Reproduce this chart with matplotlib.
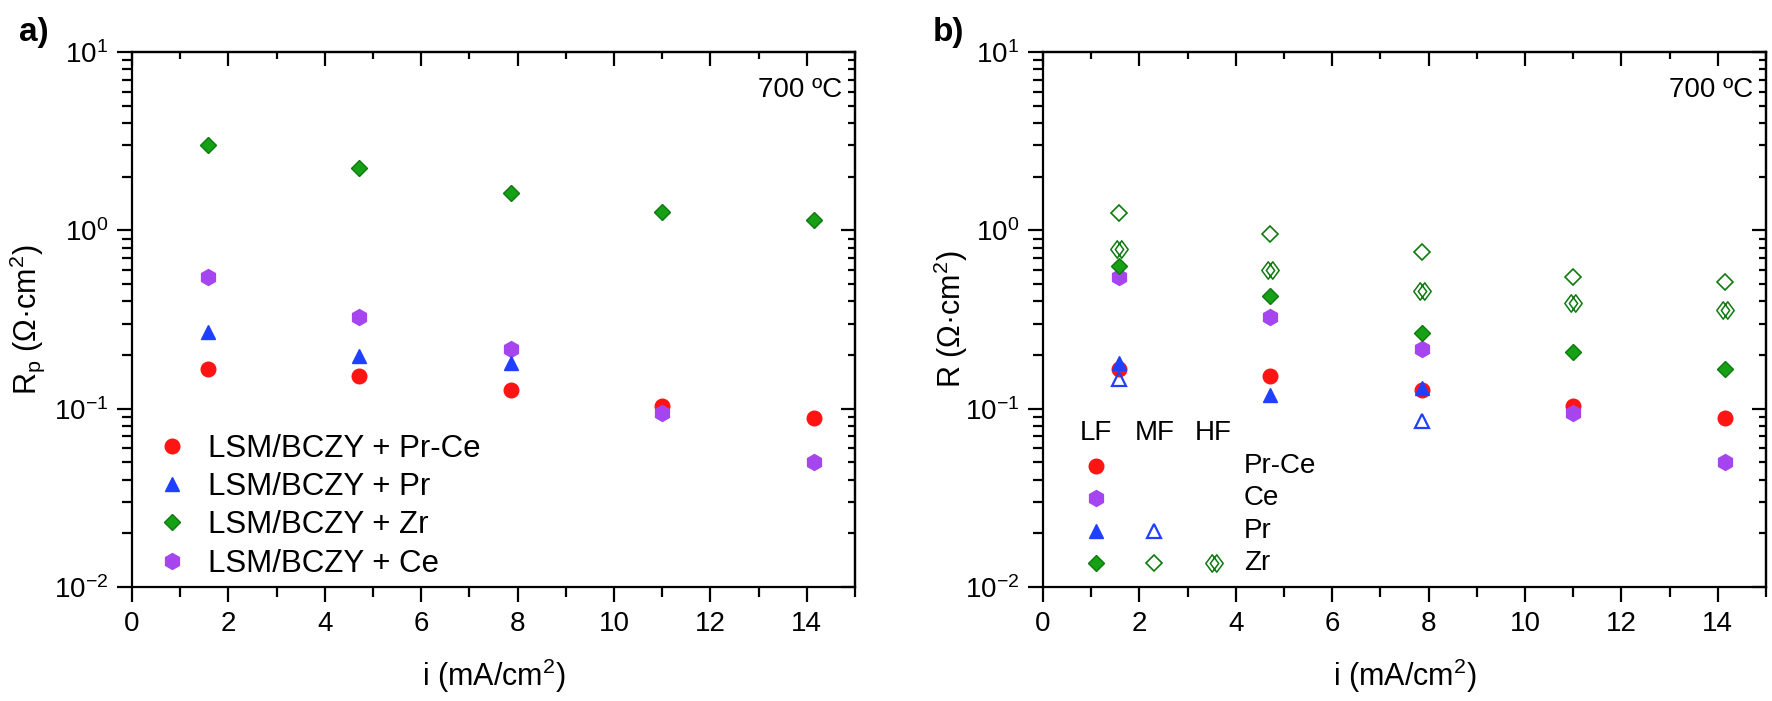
import matplotlib
matplotlib.use("Agg")
import matplotlib.pyplot as plt
from matplotlib.path import Path
from matplotlib.ticker import MultipleLocator, LogLocator, NullFormatter

plt.rcParams['font.family'] = ['Liberation Sans', 'DejaVu Sans']
plt.rcParams['mathtext.fontset'] = 'custom'
plt.rcParams['mathtext.rm'] = 'Liberation Sans'
plt.rcParams['mathtext.it'] = 'Liberation Sans:italic'
plt.rcParams['mathtext.bf'] = 'Liberation Sans:bold'

# current density (mA/cm2)
i_vals = [1.57, 4.71, 7.86, 11.0, 14.14]
i_pr = [1.57, 4.71, 7.86]

# panel a) total polarisation resistance Rp (ohm cm2)
rp_prce = [0.168, 0.153, 0.128, 0.103, 0.089]
rp_pr = [0.27, 0.197, 0.18]
rp_zr = [3.0, 2.23, 1.63, 1.26, 1.14]
rp_ce = [0.545, 0.325, 0.215, 0.094, 0.050]

# panel b) resistance of each frequency contribution
lf_prce = [0.168, 0.153, 0.128, 0.103, 0.089]
lf_ce = [0.545, 0.325, 0.215, 0.094, 0.050]
lf_pr = [0.18, 0.12, 0.13]
mf_pr = [0.146, 0.085]
i_mf_pr = [1.57, 7.86]
lf_zr = [0.63, 0.43, 0.264, 0.207, 0.166]
mf_zr = [1.25, 0.95, 0.76, 0.55, 0.51]
hf_zr = [0.79, 0.60, 0.455, 0.39, 0.356]

RED = '#ff1414'
BLUE = '#2040ff'
GREEN = '#16a016'
GREEN_E = '#0d7a0d'
PURPLE = '#a545f0'

# two overlapping open diamonds, used for the HF points
_v = []
_c = []
for cx in (-0.13, 0.13):
    _v += [(cx - 0.37, 0), (cx, 0.5), (cx + 0.37, 0), (cx, -0.5), (cx - 0.37, 0)]
    _c += [Path.MOVETO, Path.LINETO, Path.LINETO, Path.LINETO, Path.CLOSEPOLY]
HF_MARK = Path(_v, _c)

fig = plt.figure(figsize=(17.72, 7.01), dpi=100)
ax1 = fig.add_axes([0.0745, 0.1626, 0.408, 0.7632])
ax2 = fig.add_axes([0.5886, 0.1626, 0.408, 0.7632])


def style_axes(ax):
    ax.set_yscale('log')
    ax.set_xlim(0, 15)
    ax.set_ylim(1e-2, 1e1)
    ax.xaxis.set_major_locator(MultipleLocator(2))
    ax.xaxis.set_minor_locator(MultipleLocator(1))
    ax.yaxis.set_major_locator(LogLocator(base=10))
    ax.yaxis.set_minor_locator(LogLocator(base=10, subs=range(2, 10)))
    ax.yaxis.set_minor_formatter(NullFormatter())
    for s in ax.spines.values():
        s.set_linewidth(1.6)
    ax.tick_params(which='both', direction='out', width=1.6, labelsize=20,
                   top=False, right=False)
    ax.tick_params(which='major', length=11, pad=6)
    ax.tick_params(which='minor', length=7)
    # mirrored ticks pointing inwards on the top and right
    sec_x = ax.secondary_xaxis('top')
    sec_x.xaxis.set_major_locator(MultipleLocator(2))
    sec_x.xaxis.set_minor_locator(MultipleLocator(1))
    sec_x.tick_params(which='both', direction='in', width=1.6, labeltop=False)
    sec_x.tick_params(which='major', length=10)
    sec_x.tick_params(which='minor', length=5)
    sec_x.spines['top'].set_linewidth(1.6)
    sec_y = ax.secondary_yaxis('right')
    sec_y.yaxis.set_major_locator(LogLocator(base=10))
    sec_y.yaxis.set_minor_locator(LogLocator(base=10, subs=range(2, 10)))
    sec_y.tick_params(which='both', direction='in', width=1.6, labelright=False)
    sec_y.tick_params(which='major', length=10)
    sec_y.tick_params(which='minor', length=5)
    sec_y.spines['right'].set_linewidth(1.6)
    ax.set_xlabel('i (mA/cm$^2$)', fontsize=22)
    ax.xaxis.set_label_coords(0.5, -0.131)
    ax.text(0.982, 0.929, '700 ºC', transform=ax.transAxes, fontsize=20,
            ha='right', va='center')


style_axes(ax1)
style_axes(ax2)

# ---- panel a
h_prce, = ax1.plot(i_vals, rp_prce, 'o', ms=10.5, color=RED, mec=RED,
                   ls='none', zorder=3)
h_ce, = ax1.plot(i_vals, rp_ce, 'h', ms=11.5, color=PURPLE, mec=PURPLE,
                 ls='none', zorder=4)
h_pr, = ax1.plot(i_pr, rp_pr, '^', ms=10.5, color=BLUE, mec=BLUE,
                 ls='none', zorder=5)
h_zr, = ax1.plot(i_vals, rp_zr, 'D', ms=8.4, color=GREEN, mec=GREEN_E,
                 mew=1.0, ls='none', zorder=6)
ax1.legend([h_prce, h_pr, h_zr, h_ce],
           ['LSM/BCZY + Pr-Ce', 'LSM/BCZY + Pr', 'LSM/BCZY + Zr', 'LSM/BCZY + Ce'],
           loc='lower left', bbox_to_anchor=(0.03, 0.01), frameon=False,
           fontsize=22.5, handlelength=1.0, handletextpad=0.65,
           labelspacing=0.26, borderaxespad=0.0, borderpad=0.1)
ax1.set_ylabel('R$_\\mathrm{p}$ (Ω·cm$^2$)', fontsize=22)
ax1.yaxis.set_label_coords(-0.118, 0.5)

# ---- panel b
ax2.plot(i_vals, lf_prce, 'o', ms=10.5, color=RED, mec=RED, ls='none', zorder=3)
ax2.plot(i_vals, lf_ce, 'h', ms=11.5, color=PURPLE, mec=PURPLE, ls='none', zorder=4)
ax2.plot(i_pr, lf_pr, '^', ms=10.5, color=BLUE, mec=BLUE, ls='none', zorder=5)
ax2.plot(i_mf_pr, mf_pr, '^', ms=10.5, mfc='none', mec=BLUE, mew=1.6,
         ls='none', zorder=5)
ax2.plot(i_vals, lf_zr, 'D', ms=8.4, color=GREEN, mec=GREEN_E, mew=1.0,
         ls='none', zorder=6)
ax2.plot(i_vals, mf_zr, 'D', ms=8.4, mfc='none', mec=GREEN_E, mew=1.2,
         ls='none', zorder=6)
ax2.plot(i_vals, hf_zr, marker=HF_MARK, ms=12.5, mfc='none', mec=GREEN_E,
         mew=1.1, ls='none', zorder=6)
ax2.set_ylabel('R (Ω·cm$^2$)', fontsize=22)
ax2.yaxis.set_label_coords(-0.101, 0.5)

# hand-made legend table: LF / MF / HF columns
col_x = [0.073, 0.154, 0.236]
row_y = [0.226, 0.166, 0.105, 0.045]
tr = ax2.transAxes
for cx, head in zip(col_x, ['LF', 'MF', 'HF']):
    ax2.text(cx, 0.288, head, transform=tr, fontsize=20, ha='center', va='center')
ax2.plot(col_x[0], row_y[0], 'o', ms=10.5, color=RED, transform=tr, clip_on=False)
ax2.plot(col_x[0], row_y[1], 'h', ms=11.5, color=PURPLE, transform=tr, clip_on=False)
ax2.plot(col_x[0], row_y[2], '^', ms=10.5, color=BLUE, transform=tr, clip_on=False)
ax2.plot(col_x[1], row_y[2], '^', ms=10.5, mfc='none', mec=BLUE, mew=1.6,
         transform=tr, clip_on=False)
ax2.plot(col_x[0], row_y[3], 'D', ms=8.4, color=GREEN, mec=GREEN_E, mew=1.0,
         transform=tr, clip_on=False)
ax2.plot(col_x[1], row_y[3], 'D', ms=8.4, mfc='none', mec=GREEN_E, mew=1.2,
         transform=tr, clip_on=False)
ax2.plot(col_x[2], row_y[3], marker=HF_MARK, ms=12.5, mfc='none', mec=GREEN_E,
         mew=1.1, transform=tr, clip_on=False)
for ry, lab in zip(row_y, ['Pr-Ce', 'Ce', 'Pr', 'Zr']):
    ax2.text(0.278, ry, lab, transform=tr, fontsize=20, ha='left', va='center')

fig.text(0.011, 0.953, 'a)', fontsize=24, fontweight='bold', va='center')
fig.text(0.5265, 0.953, 'b)', fontsize=24, fontweight='bold', va='center')

fig.savefig('out.png', dpi=100)
